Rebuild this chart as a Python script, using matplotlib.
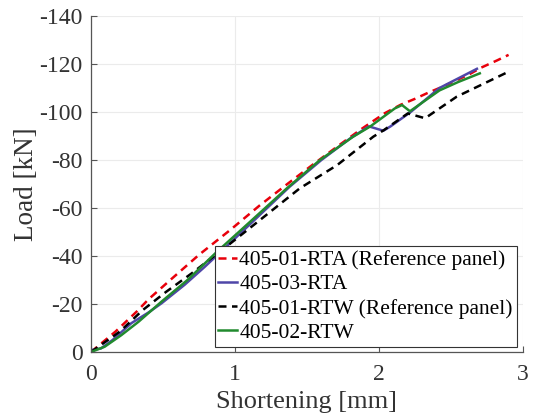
import matplotlib
matplotlib.use("Agg")
import matplotlib.pyplot as plt

plt.rcParams['font.family'] = ['Liberation Serif', 'DejaVu Serif']
plt.rcParams['axes.unicode_minus'] = False

# 405-01-RTA (Reference panel)
red_x = [0, 0.17, 0.32, 0.40, 0.56, 0.75, 0.97, 1.17, 1.37, 1.55, 1.71, 1.88, 2.04, 2.15, 2.25,
         2.34, 2.44, 2.53, 2.63, 2.71, 2.82, 2.90]
red_y = [0, -8.5, -17.0, -22.0, -30.5, -40.5, -51.0, -61.0, -70.3, -78.5, -85.6, -93.0, -99.5,
         -103.0, -105.5, -108.0, -110.5, -113.0, -115.8, -118.5, -121.5, -123.8]

# 405-03-RTA
blue_x = [0, 0.07, 0.15, 0.28, 0.40, 0.49, 0.65, 0.79, 0.95, 1.10, 1.38, 1.60, 1.80, 1.93,
          2.03, 2.08, 2.22, 2.42, 2.55, 2.68]
blue_y = [-0.8, -1.5, -5.0, -12.0, -16.5, -20.3, -28.0, -35.5, -44.5, -53.0, -68.9, -80.0,
          -89.0, -94.0, -92.2, -94.0, -100.0, -110.0, -114.0, -118.0]

# 405-01-RTW (Reference panel)
black_x = [0, 0.118, 0.20, 0.36, 0.52, 0.70, 0.94, 1.10, 1.45, 1.71, 1.96, 2.03, 2.20, 2.32,
           2.54, 2.90]
black_y = [0, -5.0, -8.5, -17.5, -25.0, -32.8, -43.9, -51.5, -68.2, -77.9, -89.7, -92.3,
           -99.4, -97.4, -106.4, -116.8]

# 405-02-RTW
green_x = [0, 0.095, 0.21, 0.33, 0.49, 0.67, 0.87, 1.10, 1.36, 1.59, 1.82, 1.94, 2.11, 2.16,
           2.215, 2.42, 2.55, 2.70]
green_y = [0, -2.2, -7.0, -12.6, -21.0, -30.0, -41.5, -54.0, -68.2, -80.0, -89.7, -94.0,
           -101.5, -102.9, -100.3, -109.0, -112.5, -116.1]

labels = ['405-01-RTA (Reference panel)', '405-03-RTA',
          '405-01-RTW (Reference panel)', '405-02-RTW']
x_ticks = [0, 1, 2, 3]
y_ticks = [0, -20, -40, -60, -80, -100, -120, -140]

fig = plt.figure(figsize=(5.36, 4.18), dpi=100)
ax = fig.add_axes([91/536, 1-352/418, 432/536, 336/418])

lw = 1.8
dash = (0, (3.2, 2.2))
ax.plot(red_x, red_y, color='#e8000b', ls=dash, lw=lw, label=labels[0])
ax.plot(blue_x, blue_y, color='#4f46a8', ls='-', lw=lw, label=labels[1])
ax.plot(black_x, black_y, color='black', ls=dash, lw=lw, label=labels[2])
ax.plot(green_x, green_y, color='#218a2e', ls='-', lw=lw, label=labels[3])

ax.set_xlim(0, 3)
ax.set_ylim(0, -140)
ax.set_xticks(x_ticks)
ax.set_yticks(y_ticks)
ax.set_xticklabels([str(v) for v in x_ticks])
ax.set_yticklabels([str(v) for v in y_ticks])

ax.grid(True, color='#ebebeb', lw=0.8)
ax.set_axisbelow(True)
for s in ['top', 'right']:
    ax.spines[s].set_visible(False)
for s in ['left', 'bottom']:
    ax.spines[s].set_color('#555555')
    ax.spines[s].set_linewidth(0.9)
ax.tick_params(direction='in', length=4, width=0.8, colors='#555555', labelcolor='#333333',
               labelsize=17)
ax.tick_params(axis='x', pad=9)
ax.tick_params(axis='y', pad=6)

ax.set_xlabel('Shortening [mm]', fontsize=19, color='#333333', labelpad=4)
ax.set_ylabel('Load [kN]', fontsize=19.5, color='#333333', labelpad=0)

leg = ax.legend(loc='lower right', bbox_to_anchor=(0.9854, 0.0158), borderaxespad=0,
                fontsize=15.5, frameon=True, fancybox=False, framealpha=1,
                edgecolor='#333333', handlelength=0.85, handletextpad=0.12,
                labelspacing=0.19, borderpad=0.18)
leg.get_frame().set_linewidth(0.8)

fig.savefig('out.png', dpi=100)
